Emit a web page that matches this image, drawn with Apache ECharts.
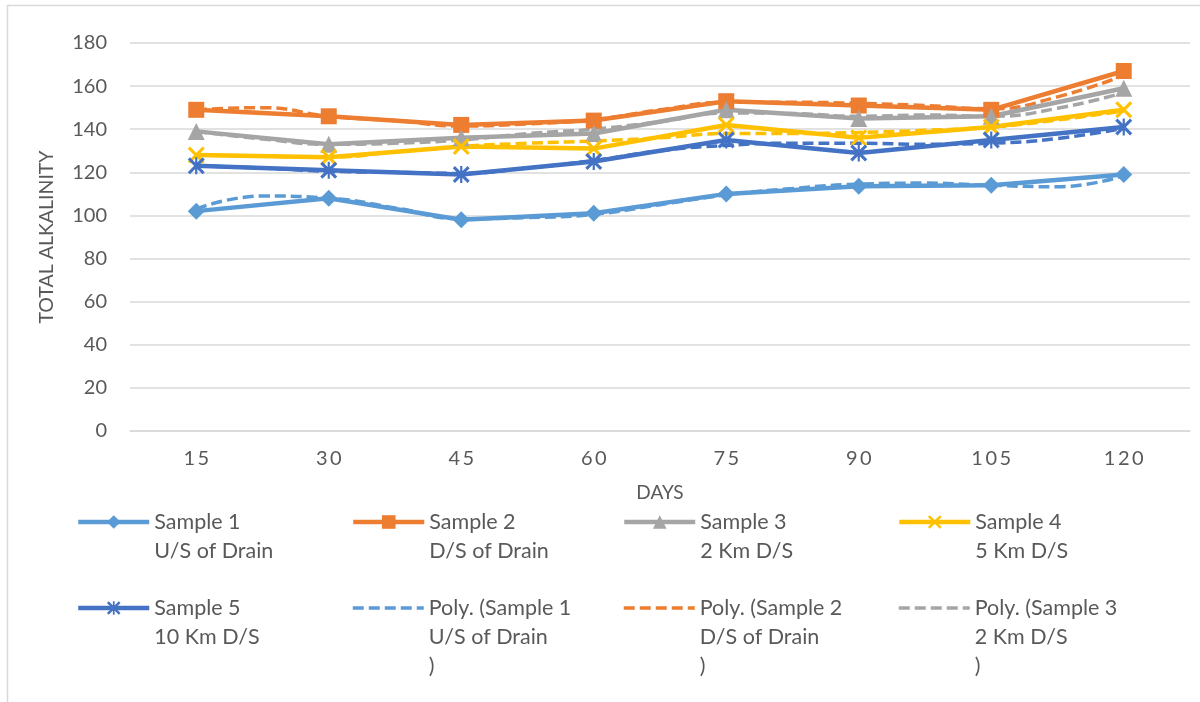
<!DOCTYPE html>
<html>
<head>
<meta charset="utf-8">
<title>Total Alkalinity</title>
<script src="https://cdn.jsdelivr.net/npm/echarts@6/dist/echarts.min.js"></script>
<style>
  html, body { margin: 0; padding: 0; background: #fff; }
  #chart { width: 1200px; height: 702px; }
</style>
</head>
<body>
<div id="chart"></div>
<script>
// Sampling days (category axis)
const days = ['15', '30', '45', '60', '75', '90', '105', '120'];

// Measured total alkalinity per sampling station
const sample1 = [102, 108, 98, 101, 110, 113.5, 114, 119];
const sample2 = [149, 146, 142, 144, 153, 151, 149, 167];
const sample3 = [139, 133, 136, 138, 149, 145, 146, 159];
const sample4 = [128, 127, 132, 131, 142, 136, 141, 149];
const sample5 = [123, 121, 119, 125, 135, 129, 135, 141];

// Polynomial trendline values, sampled every 7.5 days
const trendDays = [15, 22.5, 30, 37.5, 45, 52.5, 60, 67.5, 75, 82.5, 90, 97.5, 105, 112.5, 120];
const trend1 = [103, 109, 108, 103.5, 98.5, 99, 100.5, 105, 109.5, 112.5, 114.5, 115, 114, 113.3, 118.5];
const trend2 = [149, 150, 146, 144, 141.5, 142.5, 144.5, 149, 152.5, 152.5, 152, 151, 149.5, 155, 165];
const trend3 = [139, 135.5, 133, 133.5, 135, 138, 140, 143.5, 147.5, 147.3, 146, 146.6, 146, 149.7, 157];
const trend4 = [128, 127.5, 127, 129.5, 132, 133.5, 134.5, 136, 138, 138, 138.5, 139.5, 141, 144.3, 148.5];
const trend5 = [123, 122, 120.5, 120, 119.5, 122, 125.5, 130, 132.5, 133.5, 133.5, 133, 133.5, 135.7, 140.5];

// Series names (legend text)
const names = [
  'Sample 1\nU/S of Drain',
  'Sample 2\nD/S of Drain',
  'Sample 3\n2 Km D/S',
  'Sample 4\n5 Km D/S',
  'Sample 5\n10 Km D/S'
];
const trendNames = names.map(n => 'Poly. (' + n + '\n)');

const colors = ['#5B9BD5', '#ED7D31', '#A5A5A5', '#FFC000', '#4472C4'];
const TEXT = '#595959';
const FONT = 'Lato, "Open Sans", sans-serif';

// Marker shapes
const xMark = 'path://M0,1.3L1.3,0L10,8.7L8.7,10Z M8.7,0L10,1.3L1.3,10L0,8.7Z';
const starMark = 'path://M0,1.3L1.3,0L10,8.7L8.7,10Z M8.7,0L10,1.3L1.3,10L0,8.7Z M4.35,0L5.65,0L5.65,10L4.35,10Z';
const symbols = ['diamond', 'rect', 'triangle', xMark, starMark];
const symbolSizes = [17, 16, 17, 17, 17];

const values = [sample1, sample2, sample3, sample4, sample5];
const trends = [trend1, trend2, trend3, trend4, trend5];

const SOLID_W = 4.5;
const DASH_W = 3.5;
const DASH = [11, 5];

const series = [];
trends.forEach((t, i) => {
  series.push({
    name: trendNames[i],
    type: 'line',
    xAxisIndex: 1,
    data: trendDays.map((d, k) => [d, t[k]]),
    smooth: 0.5,
    symbol: 'none',
    z: 1,
    lineStyle: { color: colors[i], width: DASH_W, type: DASH },
    itemStyle: { color: colors[i] }
  });
});
values.forEach((v, i) => {
  series.push({
    name: names[i],
    type: 'line',
    xAxisIndex: 0,
    data: v,
    symbol: symbols[i],
    symbolSize: symbolSizes[i],
    showSymbol: true,
    z: 3,
    lineStyle: { color: colors[i], width: SOLID_W },
    itemStyle: { color: colors[i] }
  });
});

// Legend entries laid out on a 4-column grid; the first text line sits level with the icon
const LH = 29;
const legendCells = [
  { name: names[0], left: 76, iconY: 522, dashed: false },
  { name: names[1], left: 351, iconY: 522, dashed: false },
  { name: names[2], left: 622, iconY: 522, dashed: false },
  { name: names[3], left: 897, iconY: 522, dashed: false },
  { name: names[4], left: 76, iconY: 608, dashed: false },
  { name: trendNames[0], left: 351, iconY: 608, dashed: true },
  { name: trendNames[1], left: 622, iconY: 608, dashed: true },
  { name: trendNames[2], left: 897, iconY: 608, dashed: true }
];
const legends = legendCells.map(c => {
  const n = c.name.split('\n').length;
  const total = 2 * n - 1;
  const leg = {
    data: [c.name],
    left: c.left,
    top: c.iconY - total * LH / 2,
    padding: 0,
    itemWidth: 71,
    itemHeight: 17,
    itemGap: 0,
    selectedMode: false,
    formatter: name => '\n'.repeat(n - 1) + name,
    lineStyle: c.dashed ? { width: DASH_W, type: DASH } : { width: SOLID_W },
    textStyle: {
      color: TEXT,
      fontFamily: FONT,
      fontSize: 21.5,
      lineHeight: LH
    }
  };
  if (c.dashed) {
    leg.itemStyle = { opacity: 0 };
  }
  return leg;
});

const chart = echarts.init(document.getElementById('chart'), null, { renderer: 'canvas' });
chart.setOption({
  backgroundColor: '#ffffff',
  animation: false,
  textStyle: { fontFamily: FONT },
  grid: { left: 130, right: 10, top: 43, bottom: 271, containLabel: false },
  legend: legends,
  xAxis: [
    {
      type: 'category',
      data: days,
      boundaryGap: true,
      name: 'DAYS',
      nameLocation: 'middle',
      nameGap: 52,
      nameTextStyle: { color: TEXT, fontSize: 19, fontFamily: FONT },
      axisLine: { show: true, lineStyle: { color: '#D9D9D9', width: 1.5 } },
      axisTick: { show: false },
      axisLabel: {
        color: TEXT,
        fontSize: 20,
        fontFamily: FONT,
        margin: 18,
        formatter: s => s.split('').join('\u2009')
      },
      splitLine: { show: false }
    },
    {
      type: 'value',
      min: 7.5,
      max: 127.5,
      show: false,
      splitLine: { show: false }
    }
  ],
  yAxis: {
    type: 'value',
    min: 0,
    max: 180,
    interval: 20,
    name: 'TOTAL ALKALINITY',
    nameLocation: 'middle',
    nameGap: 73,
    nameTextStyle: { color: TEXT, fontSize: 19.5, fontFamily: FONT },
    axisLine: { show: false },
    axisTick: { show: false },
    axisLabel: { color: TEXT, fontSize: 20, fontFamily: FONT, margin: 23 },
    splitLine: { lineStyle: { color: '#D9D9D9', width: 1.5 } }
  },
  graphic: [
    {
      type: 'rect',
      shape: { x: 7.5, y: 5.5, width: 1200, height: 710 },
      style: { fill: 'none', stroke: '#D9D9D9', lineWidth: 1.5 },
      silent: true,
      z: -1
    }
  ],
  series: series
});
</script>
</body>
</html>
